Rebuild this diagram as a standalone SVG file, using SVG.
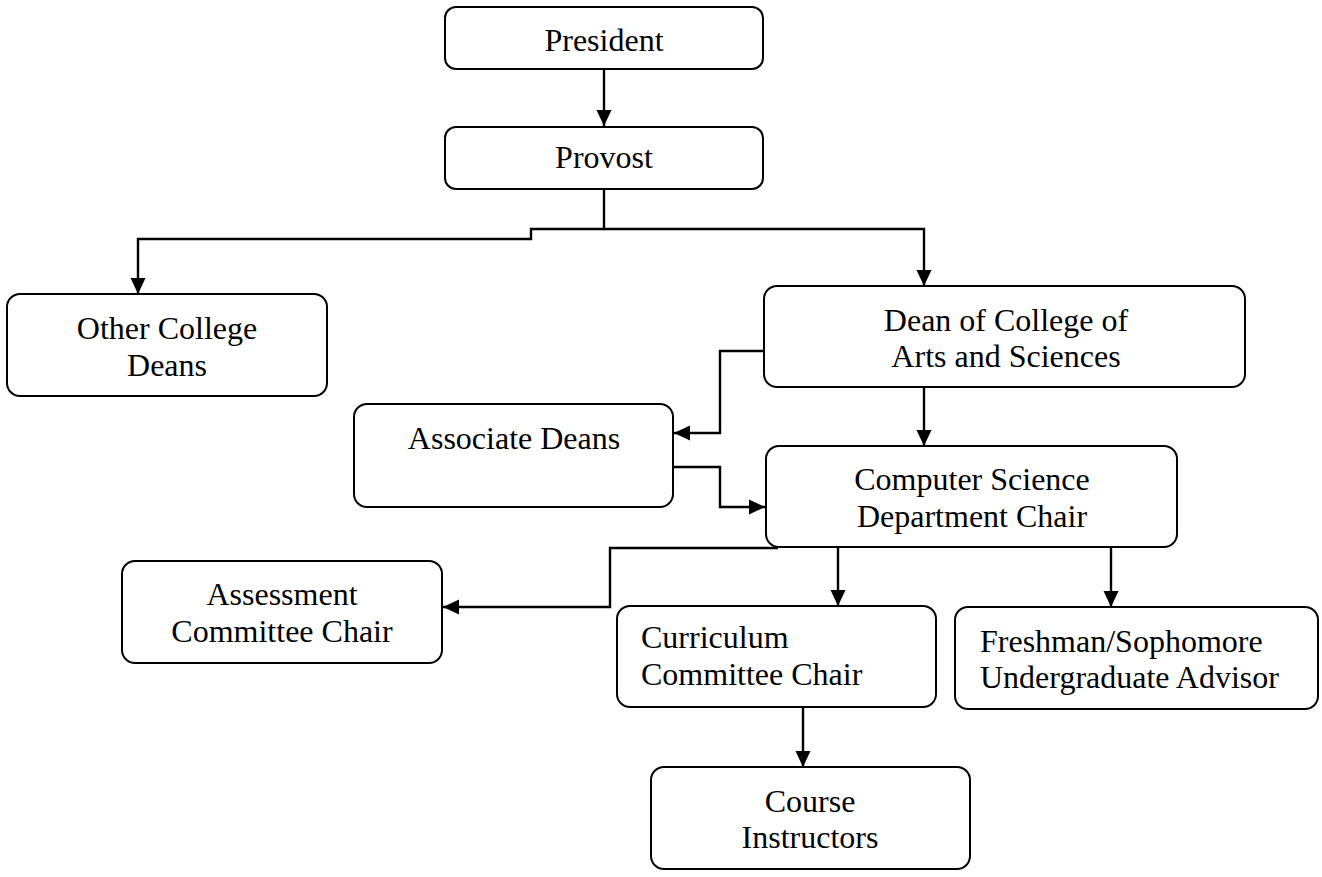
<svg xmlns="http://www.w3.org/2000/svg" width="1322" height="877" viewBox="0 0 1322 877">
<style>
.box{fill:#fff;stroke:#000;stroke-width:2}
.t{font-family:"Liberation Serif","Times New Roman",serif;font-size:32px;fill:#000}
.c{text-anchor:middle}
.ln{fill:none;stroke:#000;stroke-width:2.4}
</style>
<defs>
<marker id="ah" viewBox="0 0 16 16" refX="16" refY="8" markerWidth="16" markerHeight="16" markerUnits="userSpaceOnUse" orient="auto">
<path d="M0,0.5 L16,8 L0,15.5 z" fill="#000"/>
</marker>
</defs>
<rect width="1322" height="877" fill="#fff"/>
<g id="connectors">
<path class="ln" d="M604,69 V126" marker-end="url(#ah)"/>
<path class="ln" d="M604,189 V229 H924 V286" marker-end="url(#ah)"/>
<path class="ln" d="M604,229 H531 V239 H138 V294" marker-end="url(#ah)"/>
<path class="ln" d="M764,351 H720 V433 H674" marker-end="url(#ah)"/>
<path class="ln" d="M924,387 V446" marker-end="url(#ah)"/>
<path class="ln" d="M673,467 H720 V507 H765" marker-end="url(#ah)"/>
<path class="ln" d="M778,548 H610 V607 H443" marker-end="url(#ah)"/>
<path class="ln" d="M838,547 V606" marker-end="url(#ah)"/>
<path class="ln" d="M1111,547 V607" marker-end="url(#ah)"/>
<path class="ln" d="M803,707 V767" marker-end="url(#ah)"/>
</g>
<g id="president">
<rect class="box" x="445" y="7" width="318" height="62" rx="11"/>
<text class="t c" x="604" y="51">President</text>
</g>
<g id="provost">
<rect class="box" x="445" y="127" width="318" height="62" rx="11"/>
<text class="t c" x="604" y="168">Provost</text>
</g>
<g id="other-deans">
<rect class="box" x="7" y="294" width="320" height="102" rx="13"/>
<text class="t c" x="167" y="339">Other College</text>
<text class="t c" x="167" y="376">Deans</text>
</g>
<g id="dean">
<rect class="box" x="764" y="286" width="481" height="101" rx="13"/>
<text class="t c" x="1006" y="331">Dean of College of</text>
<text class="t c" x="1006" y="367">Arts and Sciences</text>
</g>
<g id="associate-deans">
<rect class="box" x="354" y="404" width="319" height="103" rx="13"/>
<text class="t c" x="514" y="449">Associate Deans</text>
</g>
<g id="cs-chair">
<rect class="box" x="766" y="446" width="411" height="101" rx="13"/>
<text class="t c" x="972" y="490">Computer Science</text>
<text class="t c" x="972" y="527">Department Chair</text>
</g>
<g id="assessment">
<rect class="box" x="122" y="561" width="320" height="102" rx="13"/>
<text class="t c" x="282" y="605">Assessment</text>
<text class="t c" x="282" y="642">Committee Chair</text>
</g>
<g id="curriculum">
<rect class="box" x="617" y="606" width="319" height="101" rx="13"/>
<text class="t" x="641" y="648">Curriculum</text>
<text class="t" x="641" y="685">Committee Chair</text>
</g>
<g id="advisor">
<rect class="box" x="955" y="607" width="363" height="102" rx="13"/>
<text class="t" x="980" y="652">Freshman/Sophomore</text>
<text class="t" x="980" y="688">Undergraduate Advisor</text>
</g>
<g id="instructors">
<rect class="box" x="651" y="767" width="319" height="102" rx="13"/>
<text class="t c" x="810" y="812">Course</text>
<text class="t c" x="810" y="848">Instructors</text>
</g>
</svg>
